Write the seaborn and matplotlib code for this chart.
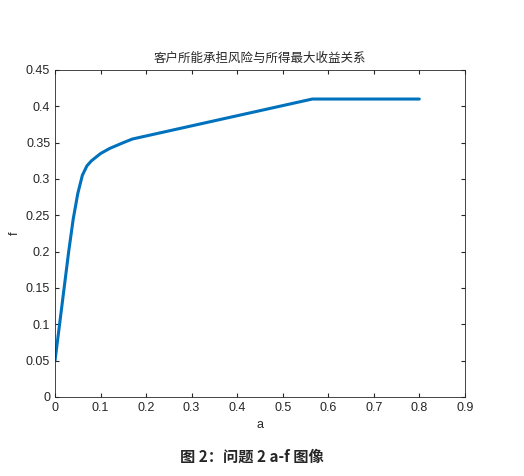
import matplotlib
matplotlib.use("Agg")
import matplotlib.pyplot as plt
import seaborn as sns
import pandas as pd

# values
a_vals = [0, 0.01, 0.02, 0.03, 0.04, 0.05, 0.06, 0.07, 0.08, 0.10, 0.12, 0.15, 0.17, 0.565, 0.8]
f_vals = [0.05, 0.10, 0.15, 0.20, 0.245, 0.28, 0.305, 0.318, 0.325, 0.335, 0.342, 0.350, 0.355, 0.41, 0.41]
x_ticks = [0, 0.1, 0.2, 0.3, 0.4, 0.5, 0.6, 0.7, 0.8, 0.9]
y_ticks = [0, 0.05, 0.1, 0.15, 0.2, 0.25, 0.3, 0.35, 0.4, 0.45]

sns.set_style("ticks")
plt.rcParams["font.family"] = ["Liberation Sans", "Noto Sans CJK SC", "DejaVu Sans"]

df = pd.DataFrame({"a": a_vals, "f": f_vals})

fig = plt.figure(figsize=(5.24, 4.76), dpi=100)
ax = fig.add_axes([0.105, 0.166, 0.782, 0.687])
sns.lineplot(data=df, x="a", y="f", ax=ax, color="#0072BD", linewidth=2.2)

ax.set_xlim(0, 0.9)
ax.set_ylim(0, 0.45)
ax.set_xticks(x_ticks)
ax.set_yticks(y_ticks)
ax.set_xticklabels([f"{t:g}" for t in x_ticks], fontsize=9)
ax.set_yticklabels([f"{t:g}" for t in y_ticks], fontsize=9)
ax.tick_params(direction="in", length=3, top=True, right=True)
for s in ax.spines.values():
    s.set_color("#262626")
    s.set_linewidth(0.6)
ax.set_xlabel("a", fontsize=9)
ax.set_ylabel("f", fontsize=9)
ax.set_title("客户所能承担风险与所得最大收益关系", fontsize=9,
             family=["Noto Sans CJK SC", "DejaVu Sans"])

fig.text(0.48, 0.03, "图 2：问题 2 a-f 图像", ha="center", fontsize=11,
         fontweight="bold", family=["Noto Sans CJK SC", "DejaVu Sans"])

fig.savefig("out.png", dpi=100)
